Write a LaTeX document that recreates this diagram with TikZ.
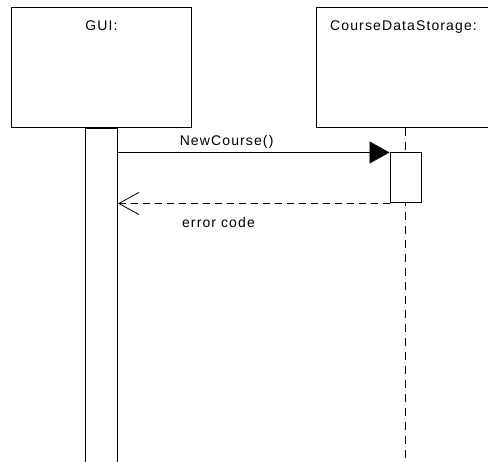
\documentclass[tikz,border=0pt]{standalone}
\usepackage{fontspec}
\setmainfont{Liberation Sans}
\newfontfamily\umlfont[LetterSpace=8]{Liberation Sans}
\usetikzlibrary{arrows.meta,positioning}

\begin{document}
\begin{tikzpicture}[x=1pt,y=-1pt,
      every node/.style={font=\umlfont\fontsize{14}{16}\selectfont, inner sep=0pt},
      objbox/.style={draw, line width=1pt, fill=white, minimum width=178pt, minimum height=120pt},
      actbar/.style={draw, line width=1pt, fill=white, minimum width=32pt},
      lifeline/.style={line width=1pt, dash pattern=on 8pt off 6pt},
      msg/.style={line width=0.8pt, -{Triangle[length=20pt,width=22pt]}},
      ret/.style={line width=0.8pt, dash pattern=on 7pt off 5pt, -{Straight Barb[length=20pt,width=22pt,line width=0.8pt]}}]
      \clip (0,0) rectangle (488,462);
      % objects
      \node[objbox, minimum width=180pt, anchor=north west] (gui) at (11,7) {};
      \node[below=14pt of gui.north] (guiname) {GUI:};
      \node[objbox, anchor=north west] (cds) at (316,7) {};
      \node[below right=14pt and 14pt of cds.north west] (cdsname) {CourseDataStorage:};
      % lifelines
      \node[actbar, minimum height=345pt, below=0pt of gui] (guibar) {};
      \draw[lifeline] (cds.south) -- (cds.south |- guibar.south);
      \node[actbar, minimum width=31pt, minimum height=50pt, below=24.5pt of cds.south] (cdsact) {};
      % messages
      \draw[msg] (guibar.east |- cdsact.north) -- (cdsact.north west)
         node[pos=0.4, above=4pt] (call) {NewCourse()};
      \draw[ret] (cdsact.south west) -- (guibar.east |- cdsact.south)
         node[pos=0.63, below=13pt] (answer) {error code};
\end{tikzpicture}
\end{document}
